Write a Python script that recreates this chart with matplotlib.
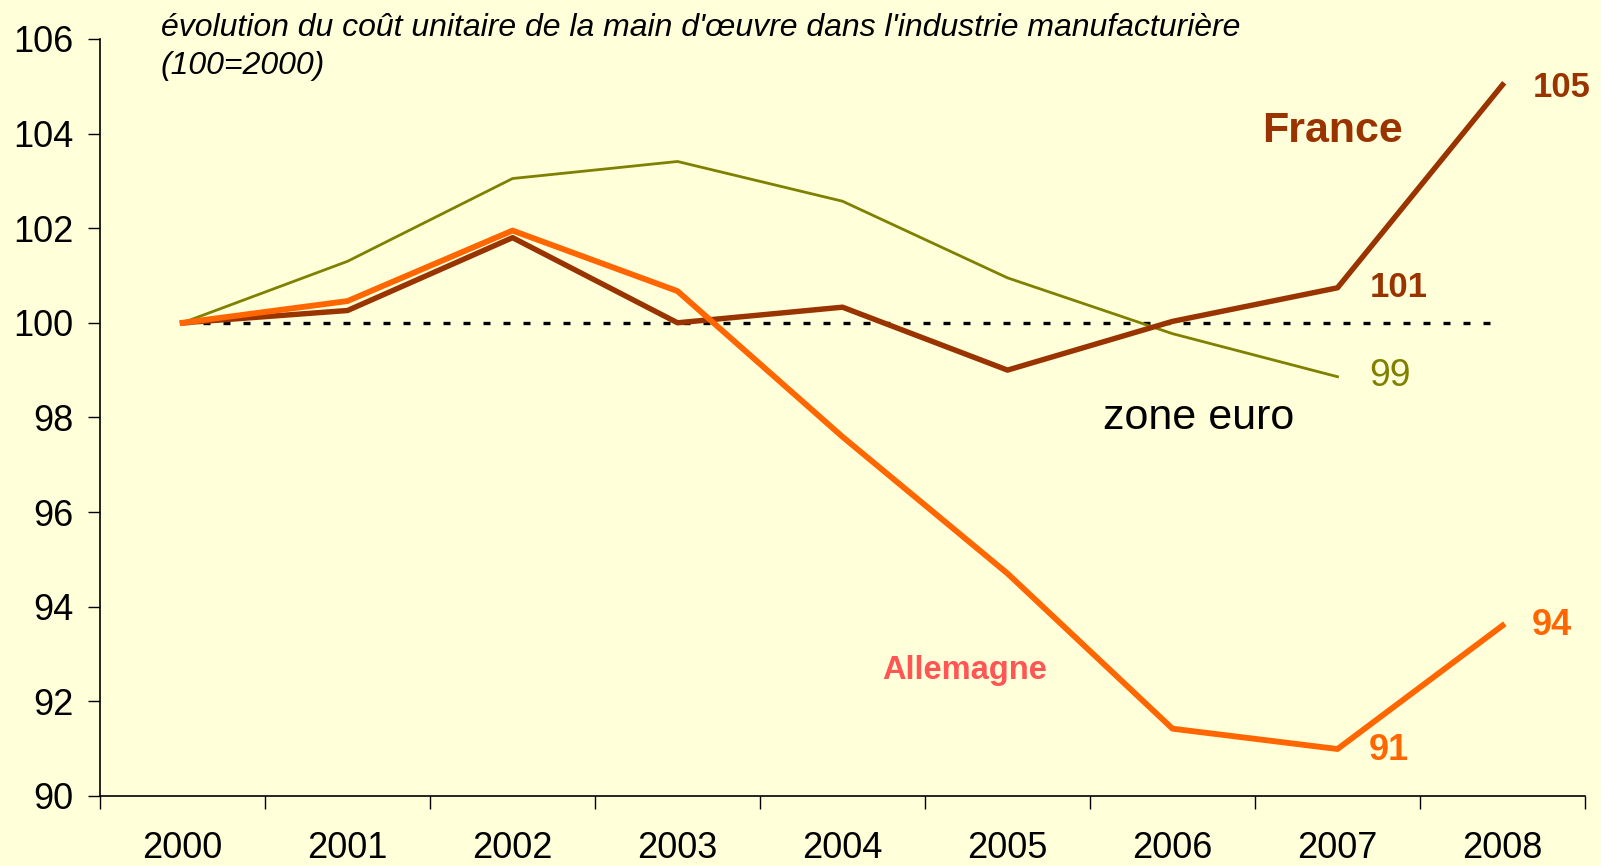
import matplotlib
matplotlib.use('Agg')
import matplotlib.pyplot as plt

plt.rcParams['font.family'] = ['Liberation Sans', 'DejaVu Sans']

years = ['2000', '2001', '2002', '2003', '2004', '2005', '2006', '2007', '2008']
france = [100.0, 100.26, 101.8, 100.0, 100.33, 99.0, 100.03, 100.74, 105.03]
allemagne = [100.0, 100.46, 101.95, 100.67, 97.59, 94.7, 91.42, 90.99, 93.6]
zone_euro = [100.0, 101.3, 103.05, 103.41, 102.57, 100.95, 99.77, 98.86]
base = [100.0] * len(years)

bg = '#FFFFD9'
c_fr = '#993300'
c_de = '#FF6600'
c_ze = '#808000'

fig = plt.figure(figsize=(16.01, 8.66), dpi=100)
fig.patch.set_facecolor(bg)
ax = fig.add_axes([0.0625, 0.081, 0.9275, 0.874])
ax.set_facecolor(bg)

x = list(range(len(years)))
ax.plot(x, base, color='black', lw=2.4, linestyle=(0, (2.1, 3.9)), zorder=2)
ax.plot(x[:len(zone_euro)], zone_euro, color=c_ze, lw=2.0, zorder=3)
ax.plot(x, france, color=c_fr, lw=3.9, zorder=4)
ax.plot(x, allemagne, color=c_de, lw=4.2, zorder=5)

ax.set_xlim(-0.5, 8.5)
ax.set_ylim(90, 106)
ax.set_yticks(range(90, 107, 2))
ax.set_xticks(x)
ax.set_xticklabels(years)
ax.set_xticks([i - 0.5 for i in range(len(years) + 1)], minor=True)
ax.tick_params(axis='x', which='major', length=0, pad=25, labelsize=26)
ax.tick_params(axis='x', which='minor', length=9, width=1)
ax.tick_params(axis='y', length=9, width=1, labelsize=26, pad=10)
for s in ['top', 'right']:
    ax.spines[s].set_visible(False)
for s in ['left', 'bottom']:
    ax.spines[s].set_linewidth(1.2)

ax.text(0.041, 1.015,
        "évolution du coût unitaire de la main d'œuvre dans l'industrie manufacturière",
        transform=ax.transAxes, fontsize=23, style='italic', va='center', ha='left')
ax.text(0.041, 0.964, "(100=2000)",
        transform=ax.transAxes, fontsize=23, style='italic', va='center', ha='left')

ax.text(6.97, 104.05, 'France', color=c_fr, fontsize=31, fontweight='bold', ha='center', va='center')
ax.text(8.36, 104.98, '105', color=c_fr, fontsize=25, fontweight='bold', ha='center', va='center')
ax.text(7.37, 100.75, '101', color=c_fr, fontsize=25, fontweight='bold', ha='center', va='center')
ax.text(7.32, 98.88, '99', color=c_ze, fontsize=27, ha='center', va='center')
ax.text(6.16, 97.98, 'zone euro', color='black', fontsize=31, ha='center', va='center')
ax.text(4.74, 92.65, 'Allemagne', color='#FF5555', fontsize=23.5, fontweight='bold', ha='center', va='center')
ax.text(7.31, 90.96, '91', color=c_de, fontsize=26, fontweight='bold', ha='center', va='center')
ax.text(8.30, 93.6, '94', color=c_de, fontsize=26, fontweight='bold', ha='center', va='center')

fig.savefig('out.png', dpi=100, facecolor=bg)
